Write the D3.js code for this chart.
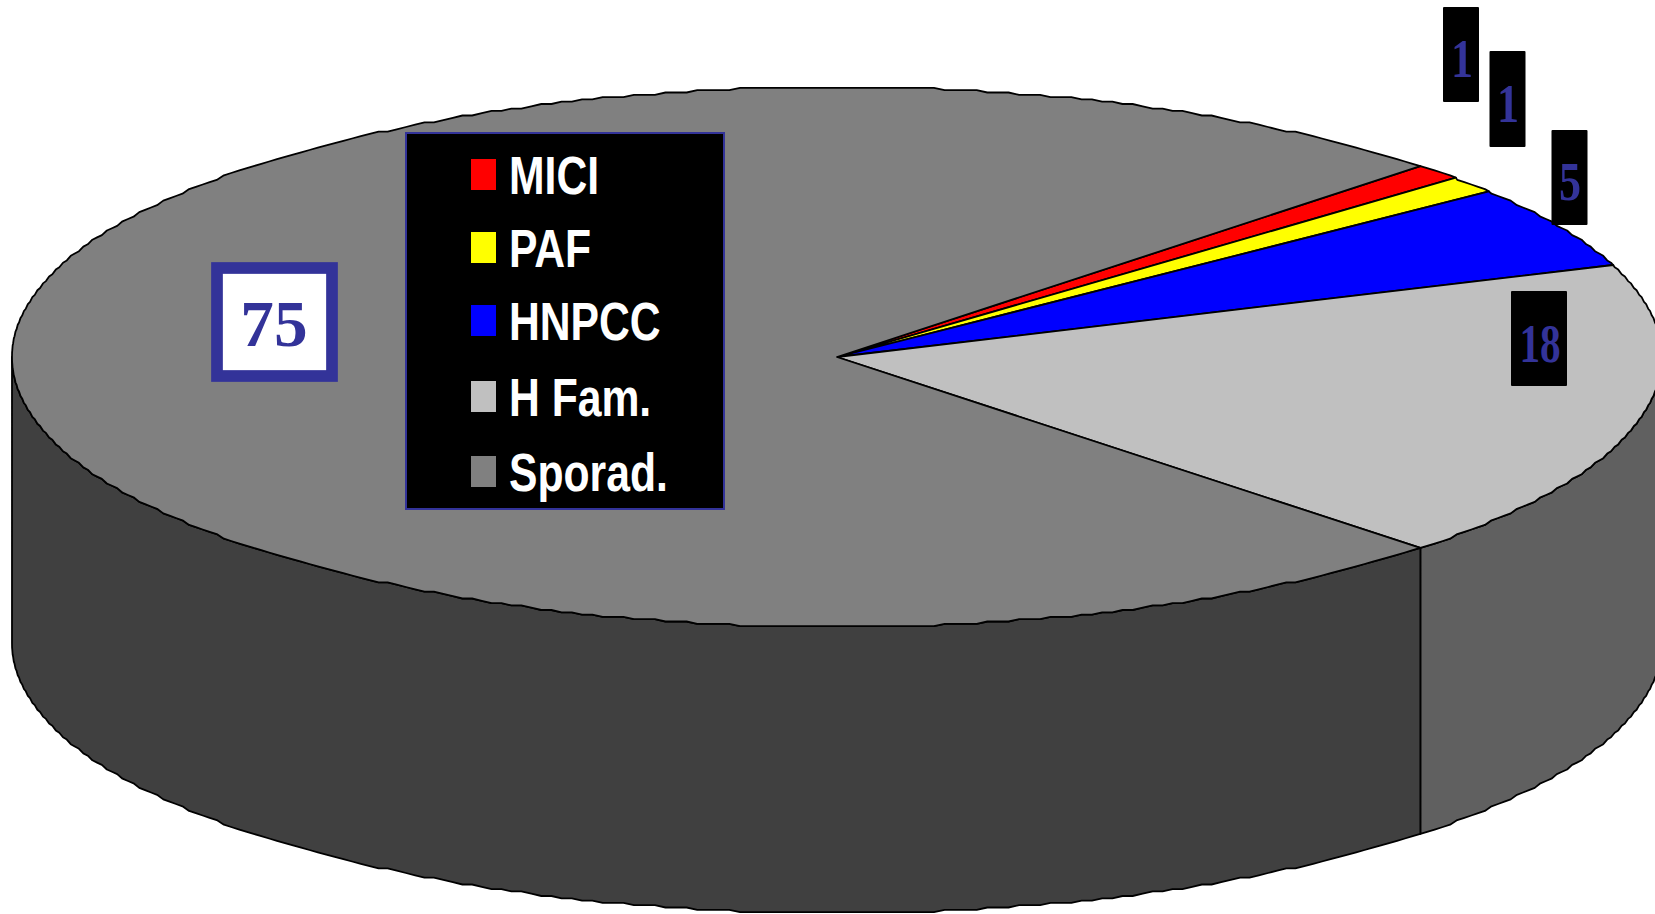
<!DOCTYPE html>
<html>
<head>
<meta charset="utf-8">
<script src="https://cdn.jsdelivr.net/npm/d3@7/dist/d3.min.js"></script>
<style>
html,body{margin:0;padding:0;background:#fff;overflow:hidden}
svg{display:block}
</style>
</head>
<body>
<svg id="chart" width="1655" height="914"></svg>
<script>
const categories = ["MICI", "PAF", "HNPCC", "H Fam.", "Sporad."];
const values = [1, 1, 5, 18, 75];
const sliceColors = ["#ff0000", "#ffff00", "#0000ff", "#c0c0c0", "#808080"];
const wallColors = ["#800000", "#808000", "#000080", "#606060", "#404040"];

const W = 1655, H = 914;
const cx = 837, cy = 357, rx = 825, ry = 270, depth = 286;
const startAngle = Math.PI / 4;
const ink = "#000", labelBlue = "#333399";
const outlineGrid = 2.3;               // the source outline is a coarse, pixel-snapped polyline
const sampleStep = 0.75 * Math.PI / 180;

const svg = d3.select("#chart");
const fill = d3.scaleOrdinal(categories, sliceColors);
const wall = d3.scaleOrdinal(categories, wallColors);

const slices = d3.pie().sort(null).value((d, i) => values[i])
  .startAngle(startAngle).endAngle(startAngle + 2 * Math.PI)(categories);

const snap = v => Math.round(v / outlineGrid) * outlineGrid;

// Point on the squashed rim for a pie angle
const rim = a => {
  const [x, y] = d3.pointRadial(a, rx);
  return [cx + x, cy + snap(y * ry / rx)];
};
// Rim samples sit on one shared angle grid, so a wall and its top face trace the same outline
const samples = (a, b) => {
  const first = Math.ceil(a / sampleStep + 1e-9), last = Math.floor(b / sampleStep - 1e-9);
  return [a, ...d3.range(first, last + 1).map(k => k * sampleStep), b];
};
const polyline = d3.line();

// Side walls: only the part of each slice on the near half of the disc shows
const near = [Math.PI / 2, 3 * Math.PI / 2];
const wallSegments = slices.flatMap(s => {
  const spans = [[s.startAngle, s.endAngle], [s.startAngle - 2 * Math.PI, s.endAngle - 2 * Math.PI]];
  return spans.map(([a, b]) => [Math.max(a, near[0]), Math.min(b, near[1]), s.data])
    .filter(([a, b]) => b > a);
});
svg.append("g").selectAll("path").data(wallSegments).join("path")
  .attr("d", ([a, b]) => {
    const top = samples(a, b).map(rim);
    const bottom = top.slice().reverse().map(([x, y]) => [x, y + depth]);
    return polyline(top.concat(bottom)) + "Z";
  })
  .attr("fill", d => wall(d[2]))
  .attr("stroke", ink).attr("stroke-width", 1.8).attr("stroke-linejoin", "round");

// Top face
svg.append("g").selectAll("path").data(slices).join("path")
  .attr("d", s => polyline([[cx, cy], ...samples(s.startAngle, s.endAngle).map(rim)]) + "Z")
  .attr("fill", d => fill(d.data))
  .attr("stroke", ink).attr("stroke-width", 1.8)
  .attr("stroke-linejoin", "round");

// Value labels
const labelBoxes = [
  {x: 1443, y: 7, w: 36, h: 95, tx: 1462, ty: 77, sx: 0.8},
  {x: 1489.5, y: 51, w: 36, h: 96, tx: 1508, ty: 122, sx: 0.8},
  {x: 1551.5, y: 130, w: 36, h: 95, tx: 1570, ty: 200, sx: 0.8},
  {x: 1511, y: 291, w: 56, h: 95, tx: 1540, ty: 362, sx: 0.75}
];
const labelsG = svg.append("g");
labelBoxes.forEach((b, i) => {
  labelsG.append("rect").attr("x", b.x).attr("y", b.y).attr("width", b.w).attr("height", b.h)
    .attr("rx", 1).attr("fill", "#000");
  labelsG.append("text")
    .attr("transform", `translate(${b.tx},${b.ty}) scale(${b.sx},1)`)
    .attr("text-anchor", "middle")
    .attr("font-family", "'Liberation Serif', serif")
    .attr("font-weight", "bold").attr("font-size", 55)
    .attr("fill", labelBlue).text(values[i]);
});

// The large value keeps a framed white box
svg.append("rect").attr("x", 217).attr("y", 268).attr("width", 115).attr("height", 108)
  .attr("fill", "#fff").attr("stroke", labelBlue).attr("stroke-width", 11.7);
svg.append("text")
  .attr("transform", "translate(274,346) scale(1.02,1)")
  .attr("text-anchor", "middle")
  .attr("font-family", "'Liberation Serif', serif")
  .attr("font-weight", "bold").attr("font-size", 66)
  .attr("fill", labelBlue).text(values[4]);

// Legend
svg.append("rect").attr("x", 406).attr("y", 133).attr("width", 318).attr("height", 376)
  .attr("fill", "#000").attr("stroke", labelBlue).attr("stroke-width", 2);
const legendBaselines = [194, 267, 340, 416, 491];
const legendY = d3.scaleOrdinal(categories, legendBaselines);
const legend = svg.append("g").selectAll("g").data(categories).join("g")
  .attr("transform", d => `translate(0,${legendY(d)})`);
legend.append("rect")
  .attr("x", 471).attr("y", -35).attr("width", 25).attr("height", 31)
  .attr("fill", d => fill(d));
legend.append("text")
  .attr("transform", "translate(509,0) scale(0.79,1)")
  .attr("font-family", "'Liberation Sans', Arial, sans-serif")
  .attr("font-weight", "bold").attr("font-size", 54)
  .attr("fill", "#fff").text(d => d);
</script>
</body>
</html>
